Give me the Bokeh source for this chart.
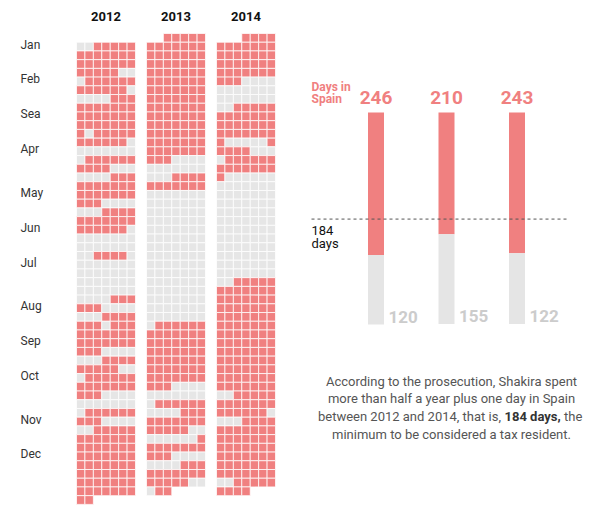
import datetime as dt

from bokeh.core.properties import value
from bokeh.embed import file_html
from bokeh.models import ColumnDataSource, Range1d
from bokeh.plotting import figure
from bokeh.resources import INLINE

# ---------------------------------------------------------------------------
# Data: one string per calendar week (Sunday..Saturday), 1 = day in Spain.
# The first and last weeks of a year are partial.
# ---------------------------------------------------------------------------
YEARS = [2012, 2013, 2014]

WEEKS_2012 = [
    "0011111", "1111111", "1111111", "1111100", "0111111", "1111110",
    "0000111", "1111111", "1111111", "1111111", "1011111", "1111110",
    "0000000", "0111111", "1111000", "0000111", "1111111", "1111111",
    "1110000", "0001111", "1111111", "1111110", "0000000", "0000000",
    "0011110", "0000000", "0000000", "0000000", "0000000", "0000111",
    "1110000", "0001111", "1110111", "1111111", "1111111", "1110000",
    "0001111", "1111100", "0111111", "1111111", "1110000", "0000000",
    "0111111", "1110000", "0011111", "1111111", "1111111", "1111111",
    "1111111", "1111111", "1111111", "1111111", "11",
]

WEEKS_2013 = [
    "11111", "1111111", "1111111", "1111111", "1111111", "1111111",
    "1111111", "1111111", "1111111", "1111111", "1111111", "1111111",
    "1111111", "1111111", "1110000", "0000000", "0001111", "1111111",
    "0000000", "0000000", "0000000", "0000000", "0000000", "0000000",
    "0000000", "0000000", "0000000", "0000000", "0000000", "0000000",
    "0000000", "0000000", "0000000", "0111111", "1111111", "1111111",
    "1111111", "1111111", "1111111", "1111111", "1110000", "0000000",
    "0111111", "0000111", "1111111", "1111100", "0000001", "1111111",
    "1110000", "0000111", "1111111", "1111100", "011",
]

WEEKS_2014 = [
    "1111", "1111111", "1111111", "1111111", "1111111", "1110000",
    "0000000", "0000000", "0011111", "1111111", "1111111", "1111111",
    "1000001", "1111000", "0111111", "1111111", "1000000", "0000000",
    "0000000", "0000000", "0000000", "0000000", "0000000", "0000000",
    "0000000", "0000000", "0000000", "0000000", "0011111", "1111111",
    "1111111", "1111111", "1111111", "1111111", "1111111", "1111111",
    "1111111", "1111111", "1111111", "1111111", "1111111", "0011111",
    "1111111", "1111110", "0001111", "1111111", "1111111", "1111111",
    "1111111", "1111111", "1111111", "0011111", "1111",
]

CALENDARS = [WEEKS_2012, WEEKS_2013, WEEKS_2014]
ROW_SHIFT = [1, 0, 0]          # 2012 starts one week lower in the grid

MONTHS = ["Jan", "Feb", "Sea", "Apr", "May", "Jun",
          "Jul", "Aug", "Sep", "Oct", "Nov", "Dec"]
MONTH_LABEL_ROWS = [1, 5, 9, 13, 18, 22, 26, 31, 35, 39, 44, 48]

THRESHOLD = 184

ANNOTATION = [
    "According to the prosecution, Shakira spent",
    "more than half a year plus one day in Spain",
]
ANNOTATION_3 = ("between 2012 and 2014, that is,", "184 days,", "the")
ANNOTATION_4 = "minimum to be considered a tax resident."

# ---------------------------------------------------------------------------
# Styling / layout
# ---------------------------------------------------------------------------
W, H = 616, 514
RED = "#f08080"
GREY = "#e6e6e6"
GREY_TEXT = "#cccccc"
FONT = value("Roboto")

CAL_LEFT, CELL_W, CAL_TOP, CELL_H, YEAR_STRIDE = 76.0, 8.43, 33.0, 8.72, 70.0
BAR_X0, BAR_STEP, BAR_W, BAR_TOP, BAR_PX_PER_DAY = 375.5, 70.5, 16.0, 112.0, 212.0 / 366

# ---------------------------------------------------------------------------
# Derived values
# ---------------------------------------------------------------------------
days_total, days_in = [], []
for year, weeks in zip(YEARS, CALENDARS):
    flat = "".join(weeks)
    n_days = (dt.date(year + 1, 1, 1) - dt.date(year, 1, 1)).days
    assert len(flat) == n_days, (year, len(flat))
    days_total.append(n_days)
    days_in.append(flat.count("1"))
days_out = [t - s for t, s in zip(days_total, days_in)]

p = figure(width=W, height=H, output_backend="svg", toolbar_location=None,
           x_range=Range1d(0, W), y_range=Range1d(H, 0),
           x_axis_location=None, y_axis_location=None,
           min_border=0, outline_line_color=None)
p.grid.visible = False
p.background_fill_color = "white"
p.border_fill_color = "white"

p.extra_x_ranges = {
    "cal": Range1d(-CAL_LEFT / CELL_W, (W - CAL_LEFT) / CELL_W),
    "bars": Range1d(-BAR_X0 / BAR_STEP, (W - BAR_X0) / BAR_STEP),
}
p.extra_y_ranges = {
    "weeks": Range1d(start=(H - CAL_TOP) / CELL_H, end=-CAL_TOP / CELL_H),
    "days": Range1d(start=(H - BAR_TOP) / BAR_PX_PER_DAY, end=-BAR_TOP / BAR_PX_PER_DAY),
}
stride_u = YEAR_STRIDE / CELL_W

# --- calendar cells --------------------------------------------------------
cx, cy, cc = [], [], []
for yi, (year, weeks, shift) in enumerate(zip(YEARS, CALENDARS, ROW_SHIFT)):
    first_col = (dt.date(year, 1, 1).weekday() + 1) % 7
    assert first_col == 7 - len(weeks[0])
    for r, wk in enumerate(weeks):
        start = first_col if r == 0 else 0
        for k, ch in enumerate(wk):
            cx.append(yi * stride_u + start + k + 0.5)
            cy.append(r + shift + 0.5)
            cc.append(RED if ch == "1" else GREY)

cells = ColumnDataSource(dict(x=cx, y=cy, color=cc))
p.rect("x", "y", width=1, height=1, source=cells, x_range_name="cal",
       y_range_name="weeks", fill_color="color", line_color="white",
       line_width=1, line_alpha=0.75)

# year headers
p.text(x=[yi * stride_u + 3.5 for yi in range(len(YEARS))], y=[16] * len(YEARS),
       text=[str(y) for y in YEARS], x_range_name="cal",
       text_font=FONT, text_font_style="bold", text_font_size="13px",
       text_color="#111111", text_align="center", text_baseline="middle")

# month labels
p.text(x=[20] * len(MONTHS), y=[r + 0.5 for r in MONTH_LABEL_ROWS], text=MONTHS,
       y_range_name="weeks", y_offset=-2, text_font=FONT, text_font_size="12px",
       text_color="#333333", text_align="left", text_baseline="middle")

# --- days-in-Spain bars ----------------------------------------------------
bx = list(range(len(YEARS)))
bw = BAR_W / BAR_STEP
p.vbar(x=bx, width=bw, bottom=[0] * len(bx), top=days_in, fill_color=RED,
       line_color=None, x_range_name="bars", y_range_name="days")
p.vbar(x=bx, width=bw, bottom=days_in, top=days_total, fill_color="#e5e5e5",
       line_color=None, x_range_name="bars", y_range_name="days")

p.text(x=bx, y=[0] * len(bx), text=[str(v) for v in days_in],
       x_range_name="bars", y_range_name="days", y_offset=-15,
       text_font=FONT, text_font_style="bold", text_font_size="19px",
       text_color=RED, text_align="center", text_baseline="middle")
p.text(x=bx, y=days_total, text=[str(v) for v in days_out],
       x_range_name="bars", y_range_name="days", x_offset=12.5, y_offset=-8,
       text_font=FONT, text_font_style="bold", text_font_size="17px",
       text_color=GREY_TEXT, text_align="left", text_baseline="middle")

p.text(x=[311, 311], y=[0, 0], text=["Days in", "Spain"], y_range_name="days",
       y_offset=[-26, -13.5], text_font=FONT, text_font_style="bold",
       text_font_size="12px", text_color=RED, text_align="left",
       text_baseline="middle")

# threshold
p.segment(x0=[311], x1=[567], y0=[THRESHOLD], y1=[THRESHOLD], y_range_name="days",
          line_color="#555555", line_width=1, line_dash="3 3")
p.text(x=[311, 311], y=[THRESHOLD, THRESHOLD], text=[str(THRESHOLD), "days"],
       y_range_name="days", y_offset=[11.5, 24], text_font=FONT,
       text_font_size="13px", text_color="#111111", text_align="left",
       text_baseline="middle")

# --- annotation -------------------------------------------------------------
NOTE_X = 451
NOTE_Y = [381, 398, 416, 434]
NOTE_STYLE = dict(text_font=FONT, text_font_size="13px", text_baseline="middle")
p.text(x=[NOTE_X] * 2, y=NOTE_Y[:2], text=ANNOTATION, text_color="#555555",
       text_align="center", **NOTE_STYLE)
p.text(x=[NOTE_X], y=[NOTE_Y[3]], text=[ANNOTATION_4], text_color="#555555",
       text_align="center", **NOTE_STYLE)
BOLD_LEFT, BOLD_W, SPACE_W = 504, 56, 3.5
p.text(x=[BOLD_LEFT - SPACE_W], y=[NOTE_Y[2]], text=[ANNOTATION_3[0]],
       text_color="#555555", text_align="right", **NOTE_STYLE)
p.text(x=[BOLD_LEFT], y=[NOTE_Y[2]], text=[ANNOTATION_3[1]], text_font_style="bold",
       text_color="#333333", text_align="left", **NOTE_STYLE)
p.text(x=[BOLD_LEFT + BOLD_W + SPACE_W], y=[NOTE_Y[2]], text=[ANNOTATION_3[2]],
       text_color="#555555", text_align="left", **NOTE_STYLE)

open("out.html", "w").write(file_html(p, INLINE))
